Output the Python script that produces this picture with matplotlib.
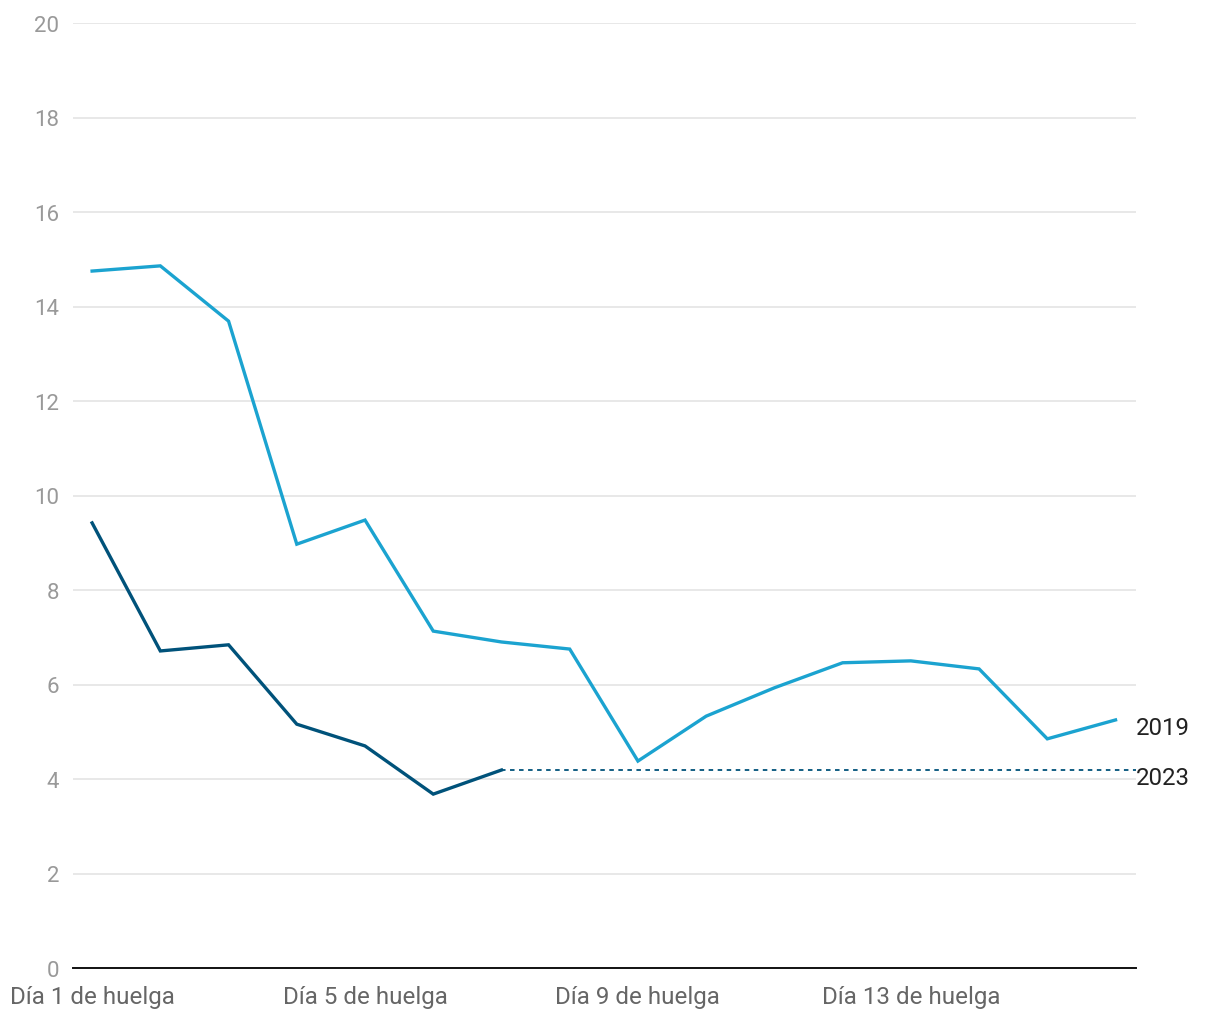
import matplotlib.pyplot as plt

plt.rcParams['font.family'] = ['Roboto', 'DejaVu Sans']

# data
days = list(range(1, 17))
v2019 = [14.75, 14.86, 13.69, 8.97, 9.48, 7.13, 6.90, 6.75,
         4.38, 5.33, 5.93, 6.46, 6.50, 6.33, 4.85, 5.25]
days2023 = list(range(1, 8))
v2023 = [9.42, 6.71, 6.84, 5.16, 4.70, 3.68, 4.19]
yticks = [0, 2, 4, 6, 8, 10, 12, 14, 16, 18, 20]
xticks = [1, 5, 9, 13]
xlabels = ["Día 1 de huelga", "Día 5 de huelga", "Día 9 de huelga", "Día 13 de huelga"]

C2019 = "#1ba3d0"
C2023 = "#00527a"

fig = plt.figure(figsize=(12.2, 10.2), dpi=100)
ax = fig.add_axes([73 / 1220, 51 / 1020, 1063 / 1220, 945 / 1020])

xmin, xmax = 0.72, 16.3
ax.set_xlim(xmin, xmax)
ax.set_ylim(0, 20)

ax.plot(days, v2019, color=C2019, lw=2.4, solid_joinstyle="miter", zorder=3)
ax.plot(days2023, v2023, color=C2023, lw=2.4, solid_joinstyle="miter", zorder=3)
ax.hlines(v2023[-1], days2023[-1], xmax, color=C2023, lw=1.3,
          linestyles=(0, (2.5, 2.5)), zorder=3)

ax.text(xmax + 0.005, v2019[-1] - 0.16, "2019", fontsize=17.3, color="#222222",
        va="center", ha="left", clip_on=False)
ax.text(xmax + 0.005, v2023[-1] - 0.16, "2023", fontsize=17.3, color="#222222",
        va="center", ha="left", clip_on=False)

ax.set_yticks(yticks)
ax.set_yticklabels([str(t) for t in yticks])
ax.set_xticks(xticks)
ax.set_xticklabels(xlabels)
ax.tick_params(axis="y", length=0, pad=10, labelsize=16, labelcolor="#999999")
ax.tick_params(axis="x", length=0, pad=12, labelsize=17.4, labelcolor="#666666")

ax.grid(axis="y", color="#e2e2e2", lw=1.1)
ax.set_axisbelow(True)
for s in ["top", "right", "left"]:
    ax.spines[s].set_visible(False)
ax.spines["bottom"].set_color("#111111")
ax.spines["bottom"].set_linewidth(1.4)
ax.spines["bottom"].set_zorder(4)

fig.savefig("out.png", dpi=100)
